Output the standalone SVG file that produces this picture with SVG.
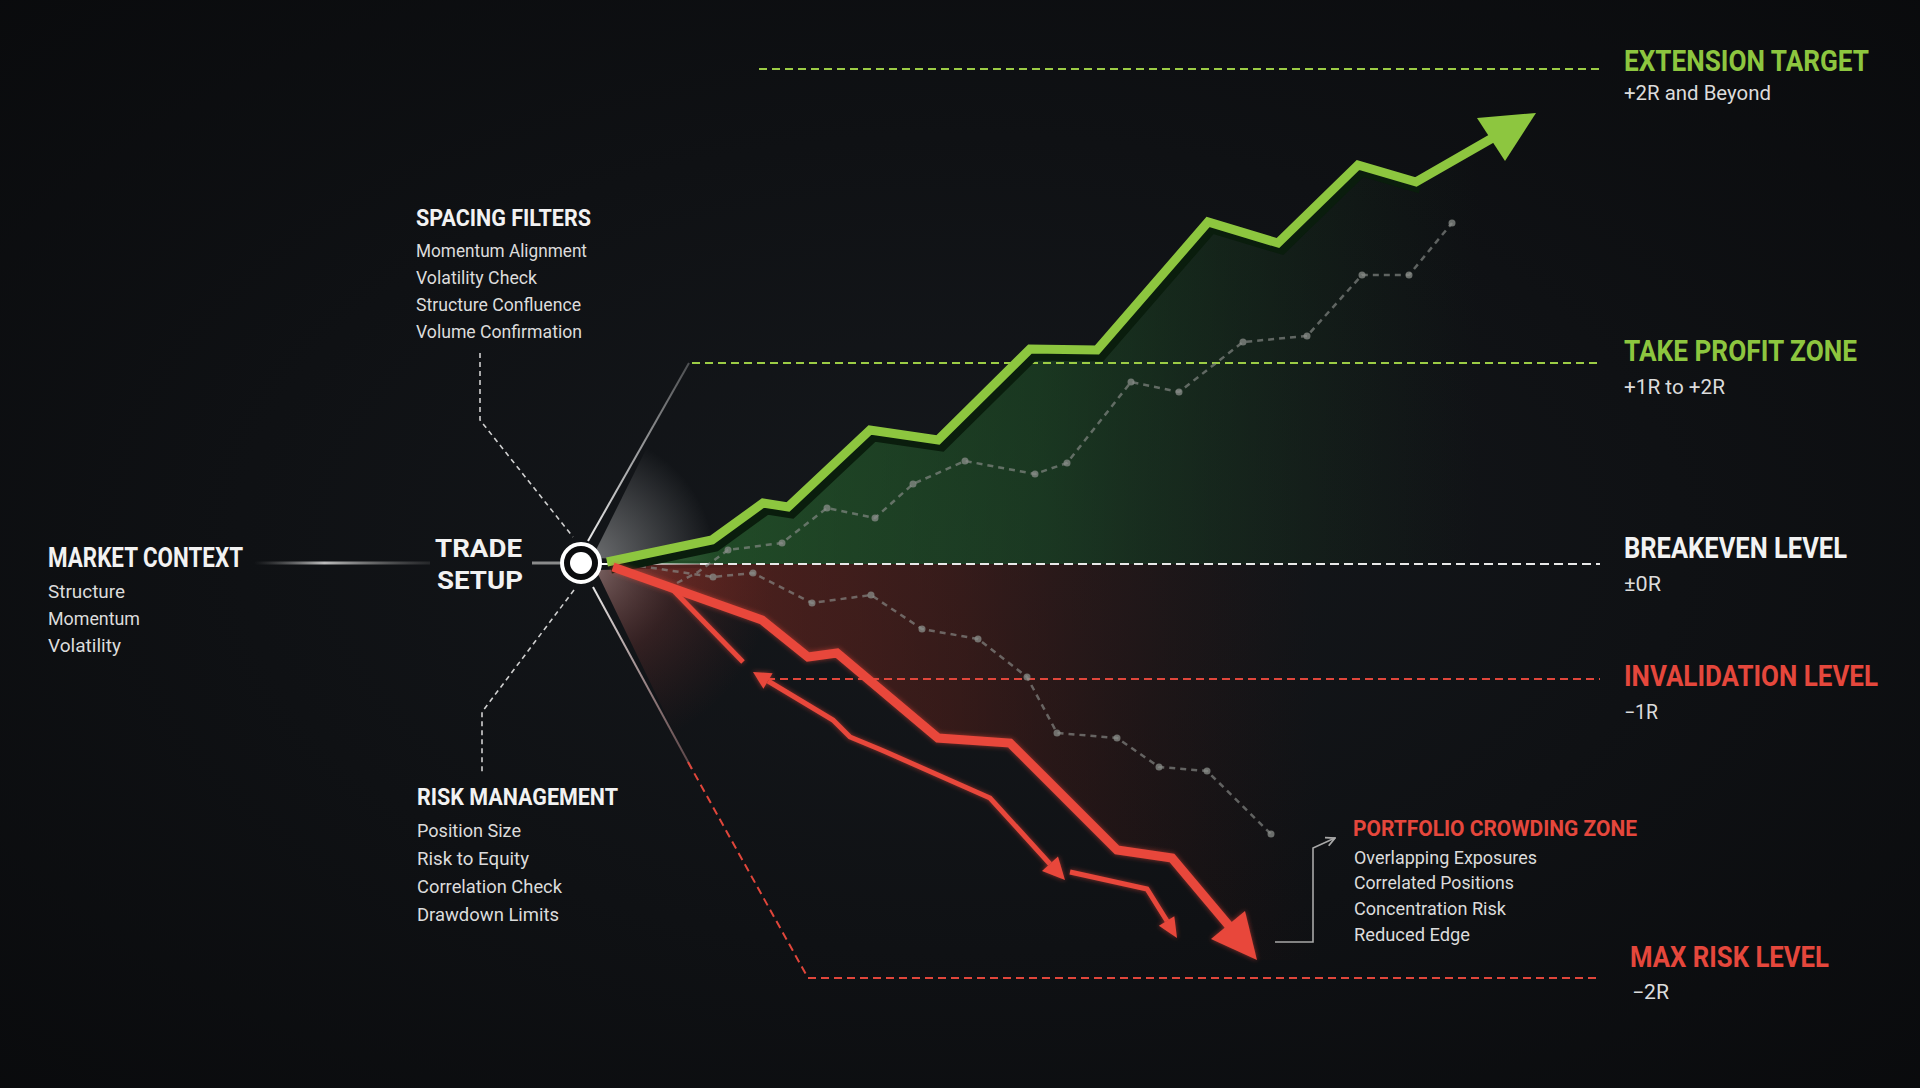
<svg xmlns="http://www.w3.org/2000/svg" width="1920" height="1088" viewBox="0 0 1920 1088">
<defs>
<style>
.hd{font-family:"Liberation Sans Narrow","Roboto","DejaVu Sans",sans-serif;font-weight:700;}
.it{font-family:"Roboto","Liberation Sans","DejaVu Sans",sans-serif;font-weight:400;fill:#dcdcdc;}
.wh{fill:#f2f2f2;}
.gr{fill:#8dc63f;}
.rd{fill:#e5473c;}
.dashW{stroke:#e8e8e8;stroke-width:2.2;stroke-dasharray:9 5;fill:none;}
.dashG{stroke:#9ccc45;stroke-width:2;stroke-dasharray:8 5;fill:none;}
.dashR{stroke:#e0463b;stroke-width:2;stroke-dasharray:8 5;fill:none;}
.conn{stroke:#d0d0d0;stroke-width:1.6;stroke-dasharray:5 4;fill:none;}
.dot{stroke:#8a8e8a;stroke-opacity:.65;stroke-width:2.5;stroke-dasharray:6 5;fill:none;}
.dv{fill:#8a8e8a;fill-opacity:.75;}
.rline{stroke:#e8473b;stroke-linejoin:miter;fill:none;}
.rhead{fill:#e8473b;}
</style>
<radialGradient id="bg" cx="50%" cy="50%" r="75%">
<stop offset="0" stop-color="#15181c"/>
<stop offset="1" stop-color="#090a0c"/>
</radialGradient>
<linearGradient id="gFill" gradientUnits="userSpaceOnUse" x1="600" y1="0" x2="1480" y2="0">
<stop offset="0" stop-color="#2f7a34" stop-opacity=".6"/>
<stop offset=".5" stop-color="#22602a" stop-opacity=".45"/>
<stop offset="1" stop-color="#1a4020" stop-opacity="0"/>
</linearGradient>
<linearGradient id="rFill" gradientUnits="userSpaceOnUse" x1="600" y1="0" x2="1320" y2="0">
<stop offset="0" stop-color="#8a2e25" stop-opacity=".6"/>
<stop offset=".5" stop-color="#5e2019" stop-opacity=".45"/>
<stop offset="1" stop-color="#3a1410" stop-opacity="0"/>
</linearGradient>
<radialGradient id="wGlow" gradientUnits="userSpaceOnUse" cx="585" cy="562" r="130">
<stop offset="0" stop-color="#ffffff" stop-opacity=".4"/>
<stop offset="1" stop-color="#ffffff" stop-opacity="0"/>
</radialGradient>
<radialGradient id="pGlow" gradientUnits="userSpaceOnUse" cx="585" cy="566" r="190">
<stop offset="0" stop-color="#f2c2bd" stop-opacity=".5"/>
<stop offset=".5" stop-color="#a84a44" stop-opacity=".22"/>
<stop offset="1" stop-color="#802a26" stop-opacity="0"/>
</radialGradient>
<linearGradient id="mcLine" gradientUnits="userSpaceOnUse" x1="254" y1="0" x2="430" y2="0">
<stop offset="0" stop-color="#888" stop-opacity="0"/>
<stop offset=".4" stop-color="#cfcfcf" stop-opacity=".9"/>
<stop offset="1" stop-color="#777" stop-opacity=".2"/>
</linearGradient>
<linearGradient id="upCone" gradientUnits="userSpaceOnUse" x1="588" y1="541" x2="689" y2="363">
<stop offset="0" stop-color="#ffffff" stop-opacity=".9"/>
<stop offset="1" stop-color="#ffffff" stop-opacity=".25"/>
</linearGradient>
<linearGradient id="loCone" gradientUnits="userSpaceOnUse" x1="593" y1="587" x2="692" y2="769">
<stop offset="0" stop-color="#ffffff" stop-opacity=".9"/>
<stop offset="1" stop-color="#e0a0a0" stop-opacity=".35"/>
</linearGradient>
<linearGradient id="extLine" gradientUnits="userSpaceOnUse" x1="759" y1="0" x2="1000" y2="0">
<stop offset="0" stop-color="#9ccc45" stop-opacity=".15"/>
<stop offset="1" stop-color="#9ccc45" stop-opacity="1"/>
</linearGradient>
<linearGradient id="tpLine" gradientUnits="userSpaceOnUse" x1="692" y1="0" x2="900" y2="0">
<stop offset="0" stop-color="#9ccc45" stop-opacity=".35"/>
<stop offset="1" stop-color="#9ccc45" stop-opacity="1"/>
</linearGradient>
<linearGradient id="beSolid" gradientUnits="userSpaceOnUse" x1="600" y1="0" x2="720" y2="0">
<stop offset="0" stop-color="#ffffff" stop-opacity="1"/>
<stop offset="1" stop-color="#ffffff" stop-opacity=".2"/>
</linearGradient>
<filter id="glow" x="-20%" y="-20%" width="140%" height="140%">
<feGaussianBlur in="SourceGraphic" stdDeviation="2.5" result="b"/>
<feComponentTransfer in="b" result="b2"><feFuncA type="linear" slope=".6"/></feComponentTransfer>
<feMerge><feMergeNode in="b2"/><feMergeNode in="SourceGraphic"/></feMerge>
</filter>
<marker id="openArr" viewBox="0 0 10 10" refX="9" refY="5" markerWidth="7" markerHeight="7" orient="auto">
<path d="M1,1 L9,5 L1,9" fill="none" stroke="#a8a8a8" stroke-width="1.6"/>
</marker>
</defs>

<rect width="1920" height="1088" fill="url(#bg)"/>

<g id="zones">
<polygon points="592,558 689,363 740,363 740,562" fill="url(#wGlow)"/>
<polygon points="596,570 692,769 800,769 800,566" fill="url(#pGlow)"/>
<polygon points="607,564 712,540 763,503 788,507 870,430 938,440 1030,349 1097,350 1208,222 1278,243 1358,165 1416,182 1500,140 1500,564" fill="url(#gFill)"/>
<polygon points="607,564 1320,564 1320,960 1257,960 1172,858 1117,850 1010,743 938,738 837,653 808,657 762,620 613,567" fill="url(#rFill)"/>
</g>

<g id="levels">
<line x1="759" y1="69" x2="1600" y2="69" class="dashG" stroke="url(#extLine)"/>
<line x1="692" y1="363" x2="1600" y2="363" class="dashG" stroke="url(#tpLine)"/>
<line x1="600" y1="564" x2="720" y2="564" stroke="url(#beSolid)" stroke-width="2.2"/>
<line x1="700" y1="564" x2="1600" y2="564" class="dashW"/>
<line x1="767" y1="679" x2="1600" y2="679" class="dashR"/>
<line x1="808" y1="978" x2="1600" y2="978" class="dashR"/>
</g>

<g id="connectors">
<line x1="254" y1="563" x2="430" y2="563" stroke="url(#mcLine)" stroke-width="3"/>
<line x1="532" y1="563" x2="560" y2="563" stroke="#bdbdbd" stroke-width="3" stroke-opacity=".7"/>
<polyline points="480,353 480,420 573,537" class="conn"/>
<polyline points="574,590 482,712 482,772" class="conn"/>
<line x1="588" y1="541" x2="689" y2="363" stroke="url(#upCone)" stroke-width="2"/>
<line x1="593" y1="587" x2="692" y2="769" stroke="url(#loCone)" stroke-width="2"/>
<line x1="688" y1="762" x2="808" y2="978" class="dashR"/>
<polyline points="1275,942 1313,942 1313,848 1335,838" fill="none" stroke="#a8a8a8" stroke-width="1.6" marker-end="url(#openArr)"/>
</g>

<g id="paths-dotted">
<polyline points="677,583 698,572 728,550 782,543 827,508 875,518 913,484 965,461 1035,474 1067,463 1131,382 1179,392 1243,342 1307,336 1362,275 1409,275 1452,223" class="dot"/>
<g class="dv">
<circle cx="728" cy="550" r="3.5"/><circle cx="782" cy="543" r="3.5"/><circle cx="827" cy="508" r="3.5"/><circle cx="875" cy="518" r="3.5"/><circle cx="913" cy="484" r="3.5"/><circle cx="965" cy="461" r="3.5"/><circle cx="1035" cy="474" r="3.5"/><circle cx="1067" cy="463" r="3.5"/><circle cx="1131" cy="382" r="3.5"/><circle cx="1179" cy="392" r="3.5"/><circle cx="1243" cy="342" r="3.5"/><circle cx="1307" cy="336" r="3.5"/><circle cx="1362" cy="275" r="3.5"/><circle cx="1409" cy="275" r="3.5"/><circle cx="1452" cy="223" r="3.5"/>
</g>
<polyline points="640,566 713,577 753,573 812,603 871,595 922,629 978,639 1027,677 1057,733 1117,738 1159,767 1207,771 1271,834" class="dot"/>
<g class="dv">
<circle cx="713" cy="577" r="3.5"/><circle cx="753" cy="573" r="3.5"/><circle cx="812" cy="603" r="3.5"/><circle cx="871" cy="595" r="3.5"/><circle cx="922" cy="629" r="3.5"/><circle cx="978" cy="639" r="3.5"/><circle cx="1027" cy="677" r="3.5"/><circle cx="1057" cy="733" r="3.5"/><circle cx="1117" cy="738" r="3.5"/><circle cx="1159" cy="767" r="3.5"/><circle cx="1207" cy="771" r="3.5"/><circle cx="1271" cy="834" r="3.5"/>
</g>
</g>

<g id="path-profit">
<polyline points="611,569 716,547 767,510 792,514 874,437 942,447 1034,356 1101,357 1212,229 1282,250 1362,172 1420,189" fill="none" stroke="#0a1d0d" stroke-width="9" stroke-linejoin="miter"/>
<polyline points="607,562 712,540 763,503 788,507 870,430 938,440 1030,349 1097,350 1208,222 1278,243 1358,165 1416,182 1496,136" fill="none" stroke="#8dc63f" stroke-width="9" stroke-linejoin="miter"/>
<polygon points="1536,113 1477,118 1505,161" fill="#8dc63f"/>
</g>

<g id="path-loss" filter="url(#glow)">
<polyline points="613,567 762,620 808,657 837,653 938,738 1010,743 1117,850 1172,858 1230,927" class="rline" stroke-width="9"/>
<polygon points="1257,960 1211,939 1245,911" class="rhead"/>
<polyline points="673,590 743,662" class="rline" stroke-width="5"/>
<polyline points="768,681 833,720 850,737 879,749 886,752 990,798 1050,864" class="rline" stroke-width="5"/>
<polygon points="753,672 772.6,673.3 763.4,688.7" class="rhead"/>
<polygon points="1065,880 1042,871 1058,856.6" class="rhead"/>
<polyline points="1070,872 1147,889 1167,921" class="rline" stroke-width="5"/>
<polygon points="1177,938 1158.9,925.7 1174.3,916.3" class="rhead"/>
</g>

<g id="node-trade-setup">
<circle cx="581" cy="563" r="19" fill="#0b0c0e" stroke="#ffffff" stroke-width="4"/>
<circle cx="581" cy="563" r="11" fill="#ffffff"/>
<text x="522" y="557" class="hd wh" font-size="26.5" text-anchor="end" textLength="87" lengthAdjust="spacingAndGlyphs">TRADE</text>
<text x="523" y="589" class="hd wh" font-size="26.5" text-anchor="end" textLength="86" lengthAdjust="spacingAndGlyphs">SETUP</text>
</g>

<g id="node-market-context">
<text x="48" y="567" class="hd wh" font-size="28" textLength="195" lengthAdjust="spacingAndGlyphs">MARKET CONTEXT</text>
<text x="48" y="598" class="it" font-size="18" textLength="77" lengthAdjust="spacingAndGlyphs">Structure</text>
<text x="48" y="625" class="it" font-size="18" textLength="92" lengthAdjust="spacingAndGlyphs">Momentum</text>
<text x="48" y="652" class="it" font-size="18" textLength="73" lengthAdjust="spacingAndGlyphs">Volatility</text>
</g>

<g id="node-spacing-filters">
<text x="416" y="226" class="hd wh" font-size="23" textLength="175" lengthAdjust="spacingAndGlyphs">SPACING FILTERS</text>
<text x="416" y="257" class="it" font-size="17.5" textLength="171" lengthAdjust="spacingAndGlyphs">Momentum Alignment</text>
<text x="416" y="284" class="it" font-size="17.5" textLength="121" lengthAdjust="spacingAndGlyphs">Volatility Check</text>
<text x="416" y="311" class="it" font-size="17.5" textLength="165" lengthAdjust="spacingAndGlyphs">Structure Confluence</text>
<text x="416" y="338" class="it" font-size="17.5" textLength="166" lengthAdjust="spacingAndGlyphs">Volume Confirmation</text>
</g>

<g id="node-risk-management">
<text x="417" y="805" class="hd wh" font-size="24" textLength="201" lengthAdjust="spacingAndGlyphs">RISK MANAGEMENT</text>
<text x="417" y="837" class="it" font-size="18" textLength="104" lengthAdjust="spacingAndGlyphs">Position Size</text>
<text x="417" y="865" class="it" font-size="18" textLength="112" lengthAdjust="spacingAndGlyphs">Risk to Equity</text>
<text x="417" y="893" class="it" font-size="18" textLength="145" lengthAdjust="spacingAndGlyphs">Correlation Check</text>
<text x="417" y="921" class="it" font-size="18" textLength="142" lengthAdjust="spacingAndGlyphs">Drawdown Limits</text>
</g>

<g id="node-crowding-zone">
<text x="1353" y="836" class="hd rd" font-size="22" textLength="284" lengthAdjust="spacingAndGlyphs">PORTFOLIO CROWDING ZONE</text>
<text x="1354" y="864" class="it" font-size="17.5" textLength="183" lengthAdjust="spacingAndGlyphs">Overlapping Exposures</text>
<text x="1354" y="889" class="it" font-size="17.5" textLength="160" lengthAdjust="spacingAndGlyphs">Correlated Positions</text>
<text x="1354" y="915" class="it" font-size="17.5" textLength="152" lengthAdjust="spacingAndGlyphs">Concentration Risk</text>
<text x="1354" y="941" class="it" font-size="17.5" textLength="116" lengthAdjust="spacingAndGlyphs">Reduced Edge</text>
</g>

<g id="node-extension-target">
<text x="1624" y="71" class="hd gr" font-size="29" textLength="245" lengthAdjust="spacingAndGlyphs">EXTENSION TARGET</text>
<text x="1624" y="100" class="it" font-size="19.5" textLength="147" lengthAdjust="spacingAndGlyphs">+2R and Beyond</text>
</g>
<g id="node-take-profit">
<text x="1624" y="361" class="hd gr" font-size="29" textLength="233" lengthAdjust="spacingAndGlyphs">TAKE PROFIT ZONE</text>
<text x="1624" y="394" class="it" font-size="19.5" textLength="101" lengthAdjust="spacingAndGlyphs">+1R to +2R</text>
</g>
<g id="node-breakeven">
<text x="1624" y="558" class="hd wh" font-size="29" textLength="223" lengthAdjust="spacingAndGlyphs">BREAKEVEN LEVEL</text>
<text x="1624" y="591" class="it" font-size="19.5" textLength="37" lengthAdjust="spacingAndGlyphs">±0R</text>
</g>
<g id="node-invalidation">
<text x="1624" y="686" class="hd rd" font-size="29" textLength="254" lengthAdjust="spacingAndGlyphs">INVALIDATION LEVEL</text>
<text x="1624" y="719" class="it" font-size="19.5" textLength="34" lengthAdjust="spacingAndGlyphs">−1R</text>
</g>
<g id="node-max-risk">
<text x="1630" y="967" class="hd rd" font-size="29" textLength="199" lengthAdjust="spacingAndGlyphs">MAX RISK LEVEL</text>
<text x="1632" y="999" class="it" font-size="19.5" textLength="37" lengthAdjust="spacingAndGlyphs">−2R</text>
</g>
</svg>
